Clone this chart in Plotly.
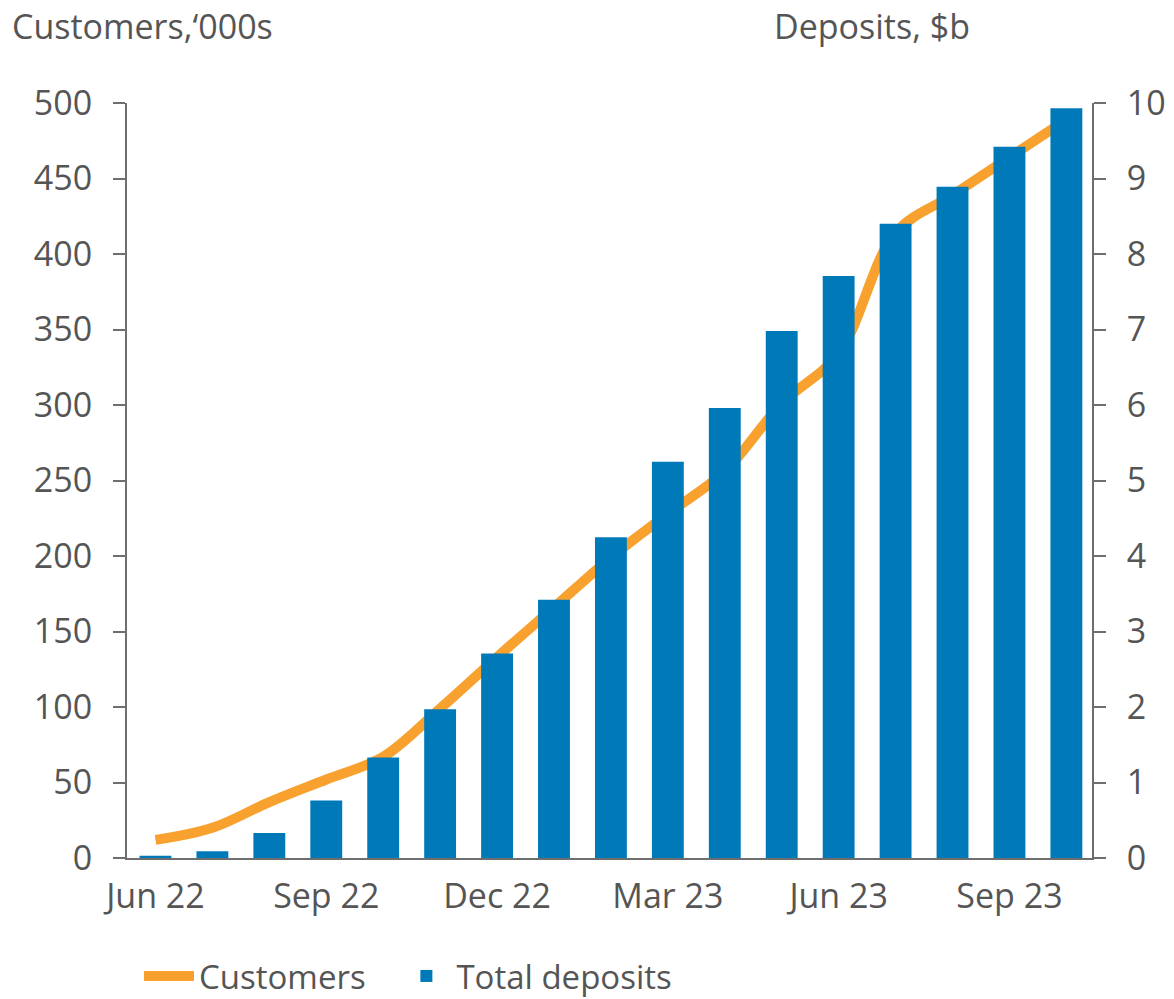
import plotly.graph_objects as go

months = ["Jun 22", "Jul 22", "Aug 22", "Sep 22", "Oct 22", "Nov 22", "Dec 22",
          "Jan 23", "Feb 23", "Mar 23", "Apr 23", "May 23", "Jun 23", "Jul 23",
          "Aug 23", "Sep 23", "Oct 23"]
deposits = [0.03, 0.09, 0.33, 0.76, 1.33, 1.97, 2.71, 3.42, 4.25, 5.25, 5.96,
            6.98, 7.71, 8.40, 8.89, 9.42, 9.93]
customers = [12, 20, 37, 52, 67, 99, 133, 166, 199, 228, 256, 301, 334, 414,
             439, 464, 489]
tick_labels = ["Jun 22", "Sep 22", "Dec 22", "Mar 23", "Jun 23", "Sep 23"]

x = list(range(len(months)))
tickvals = [months.index(t) for t in tick_labels]

FONT = "Open Sans, sans-serif"
TXT = "#555555"
AX = "#6e6e6e"

fig = go.Figure()
fig.add_trace(go.Bar(x=x, y=deposits, name="Total deposits", yaxis="y2",
                     marker=dict(color="#0079B8", line=dict(width=0))))
fig.add_trace(go.Scatter(x=x, y=customers, name="Customers\u00a0\u00a0\u00a0", mode="lines",
                         line=dict(color="#F9A12E", width=10, shape="spline", smoothing=1.0)))

# page has an 8px body margin, so the figure is sized to fill the rest
W, H = 1166, 991
ML, MR, MT, MB = 119, 82, 95, 141
PH = H - MT - MB
PW = W - ML - MR

fig.update_layout(
    width=W, height=H,
    margin=dict(l=ML, r=MR, t=MT, b=MB, autoexpand=False),
    paper_bgcolor="white", plot_bgcolor="white",
    font=dict(family=FONT, size=34, color=TXT),
    bargap=0.44,
    showlegend=True,
    legend=dict(orientation="h", x=12/PW, xanchor="left", y=-(976 - 858) / PH, yanchor="middle",
                traceorder="reversed", font=dict(size=33, color=TXT),
                itemwidth=50, bgcolor="rgba(0,0,0,0)"),
    xaxis=dict(range=[-0.5, 16.45], tickvals=tickvals, ticktext=tick_labels,
               showline=True, linecolor=AX, linewidth=2, ticks="",
               showgrid=False, zeroline=False, ticklabelstandoff=7),
    yaxis=dict(range=[0, 500], dtick=50, showline=True, linecolor=AX, linewidth=2,
               ticks="outside", ticklen=12, tickcolor=AX, tickwidth=2,
               showgrid=False, zeroline=False, ticklabelstandoff=14),
    yaxis2=dict(range=[0, 10], dtick=1, overlaying="y", side="right",
                showline=True, linecolor=AX, linewidth=2,
                ticks="outside", ticklen=12, tickcolor=AX, tickwidth=2,
                showgrid=False, zeroline=False, ticklabelstandoff=14),
    annotations=[
        dict(text="Customers,\u2018000s", xref="paper", yref="paper", x=-117/PW, y=1 + 77/PH,
             xanchor="left", yanchor="middle", showarrow=False, font=dict(size=34, color=TXT)),
        dict(text="Deposits, $b", xref="paper", yref="paper", x=(972-127)/PW, y=1 + 77/PH,
             xanchor="right", yanchor="middle", showarrow=False, font=dict(size=34, color=TXT)),
    ],
)

fig.write_html("out.html")
